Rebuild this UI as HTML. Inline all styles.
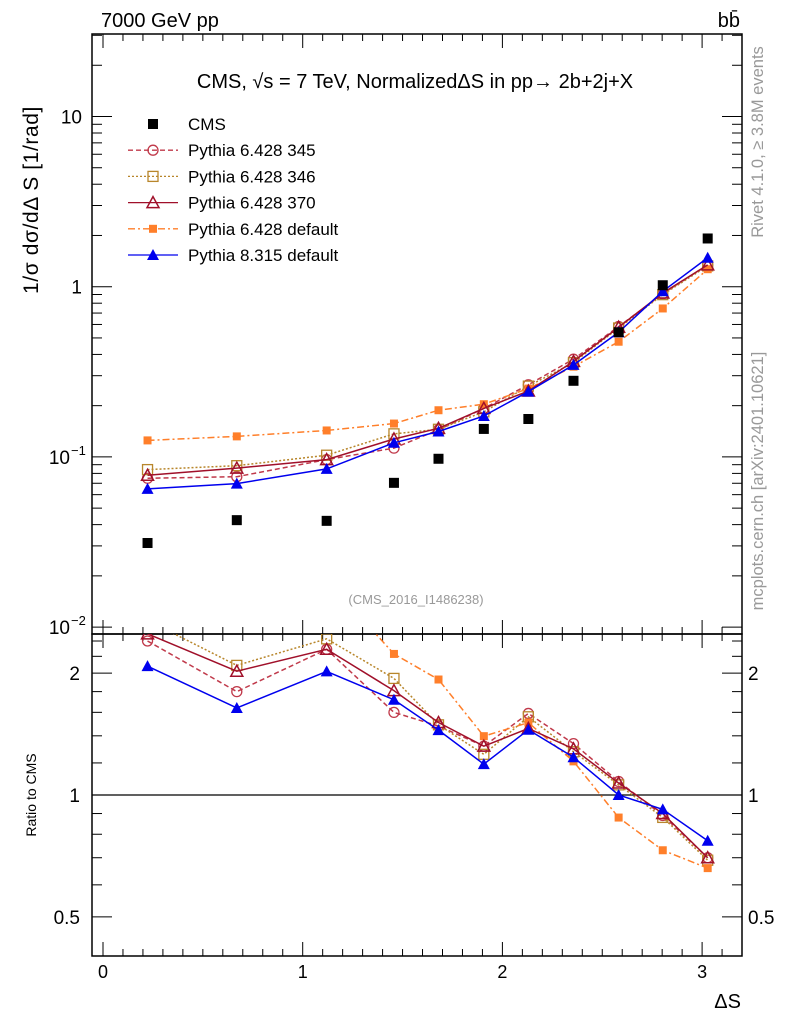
<!DOCTYPE html>
<html><head><meta charset="utf-8"><style>
body{margin:0;background:#fff;}
svg{display:block;font-family:"Liberation Sans",sans-serif;}
</style></head><body>
<svg id="chart" width="786" height="1024" viewBox="0 0 786 1024" xmlns="http://www.w3.org/2000/svg">
<text x="101" y="27" font-size="20">7000 GeV pp</text>
<text x="740" y="27" font-size="20" text-anchor="end">bb̄</text>
<text x="415" y="88" font-size="20" text-anchor="middle">CMS, √s = 7 TeV, NormalizedΔS in pp→  2b+2j+X</text>
<text transform="translate(38,200) rotate(-90)" font-size="21" letter-spacing="0.6" text-anchor="middle">1/σ dσ/dΔ S [1/rad]</text>
<text transform="translate(36,795) rotate(-90)" font-size="14" text-anchor="middle">Ratio to CMS</text>
<text x="741" y="1008" font-size="20" text-anchor="end">ΔS</text>
<text transform="translate(763,142) rotate(-90)" font-size="16.5" fill="#999" text-anchor="middle">Rivet 4.1.0, ≥ 3.8M events</text>
<text transform="translate(763,481) rotate(-90)" font-size="16.5" fill="#999" text-anchor="middle">mcplots.cern.ch [arXiv:2401.10621]</text>
<text x="416" y="604" font-size="13" fill="#999" text-anchor="middle">(CMS_2016_I1486238)</text>
<g id="axes"></g><g id="series"></g><g id="legend"></g>
</svg>
<script>
const xCenters=[0.223,0.67,1.12,1.457,1.68,1.907,2.13,2.356,2.582,2.803,3.028];
const cmsVals=[0.0312,0.0425,0.0421,0.0704,0.0975,0.146,0.167,0.280,0.54,1.02,1.92];
const p345=[0.0749,0.0765,0.0964,0.1126,0.1443,0.1927,0.2655,0.375,0.583,0.908,1.344];
const p346=[0.0842,0.0888,0.1023,0.1366,0.1453,0.184,0.2605,0.358,0.572,0.898,1.325];
const p370=[0.078,0.0859,0.0964,0.1274,0.1472,0.1927,0.2438,0.364,0.578,0.918,1.344];
const p6def=[0.125,0.132,0.143,0.157,0.188,0.204,0.252,0.339,0.475,0.745,1.267];
const p8def=[0.0649,0.0697,0.085,0.121,0.141,0.174,0.242,0.347,0.54,0.94,1.48];
const xTicks=[0,1,2,3];
const ratioTicks=[0.5,1,2];
const legendLabels=["CMS","Pythia 6.428 345","Pythia 6.428 346","Pythia 6.428 370","Pythia 6.428 default","Pythia 8.315 default"];

const NS="http://www.w3.org/2000/svg";
const L=92,R=742,T=34,MB=634,RB=956;
const X=v=>103+v*199.7;
const Y=v=>116.5-(Math.log10(v)-1)*170.2;
const YR=v=>795-Math.log10(v)*405;
function mk(tag,attrs,parent){const e=document.createElementNS(NS,tag);for(const k in attrs)e.setAttribute(k,attrs[k]);parent.appendChild(e);return e;}
const ax=document.getElementById('axes'),sg=document.getElementById('series'),lg=document.getElementById('legend');
let f=mk('rect',{x:L,y:T,width:R-L,height:MB-T,fill:'none',stroke:'#000','stroke-width':1.5},ax);


f=mk('rect',{x:L,y:MB,width:R-L,height:RB-MB,fill:'none',stroke:'#000','stroke-width':1.5},ax);


for(let i=0;i<=32;i++){const v=i/10,x=X(v);if(x>R)break;const len=i%10==0?14:7;
 mk('line',{x1:x,x2:x,y1:RB,y2:RB-len,stroke:'#000'},ax);
 mk('line',{x1:x,x2:x,y1:MB,y2:MB-len,stroke:'#000'},ax);
 mk('line',{x1:x,x2:x,y1:T,y2:T+len,stroke:'#000'},ax);
 mk('line',{x1:x,x2:x,y1:MB,y2:MB+len,stroke:'#000'},ax);}
xTicks.forEach(v=>{const t=mk('text',{x:X(v),y:978,'font-size':18,'text-anchor':'middle'},ax);t.textContent=v;

});
for(let d=-2;d<=1;d++)for(let m=1;m<=9;m++){const v=m*Math.pow(10,d),y=Y(v);if(y<T||y>MB)continue;const len=m==1?20:10;
 mk('line',{x1:L,x2:L+len,y1:y,y2:y,stroke:'#000'},ax);mk('line',{x1:R,x2:R-len,y1:y,y2:y,stroke:'#000'},ax);}
[[10,'10'],[1,'1']].forEach(([v,s])=>{const t=mk('text',{x:82,y:Y(v)+7,'font-size':19,'text-anchor':'end'},ax);t.textContent=s;

});
[[0.1,'−1'],[0.01,'−2']].forEach(([v,e])=>{const t=mk('text',{x:70,y:Y(v)+7,'font-size':19,'text-anchor':'end'},ax);t.textContent='10';


const s=mk('text',{x:71,y:Y(v)-2,'font-size':13},ax);s.textContent=e;});
for(const v of [0.4,0.5,0.6,0.7,0.8,0.9,1,1.2,1.4,1.6,1.8,2,2.2,2.4]){const y=YR(v);if(y<MB||y>RB)continue;const len=ratioTicks.includes(v)?20:10;
 mk('line',{x1:L,x2:L+len,y1:y,y2:y,stroke:'#000'},ax);mk('line',{x1:R,x2:R-len,y1:y,y2:y,stroke:'#000'},ax);}
ratioTicks.forEach(v=>{let t=mk('text',{x:80,y:YR(v)+7,'font-size':19,'text-anchor':'end'},ax);t.textContent=v;


t=mk('text',{x:748,y:YR(v)+7,'font-size':19},ax);t.textContent=v;

});
mk('line',{x1:L,x2:R,y1:YR(1),y2:YR(1),stroke:'#000','stroke-width':1.2},ax);

function marker(g,type,col,x,y,s){
 if(type=='sqf')return mk('rect',{x:x-s,y:y-s,width:2*s,height:2*s,fill:col},g);
 if(type=='sqo')return mk('rect',{x:x-s,y:y-s,width:2*s,height:2*s,fill:'none',stroke:col,'stroke-width':1.3},g);
 if(type=='circ')return mk('circle',{cx:x,cy:y,r:s,fill:'none',stroke:col,'stroke-width':1.3},g);
 if(type=='trio')return mk('path',{d:`M${x},${y-s-1}L${x+s+1},${y+s}L${x-s-1},${y+s}Z`,fill:'none',stroke:col,'stroke-width':1.5},g);
 if(type=='trif')return mk('path',{d:`M${x},${y-s-1}L${x+s+1},${y+s}L${x-s-1},${y+s}Z`,fill:col},g);}
const defs=[
 {vals:p345,col:'#c0394a',dash:'5,3',m:'circ',s:5,name:'pythia6-345'},
 {vals:p346,col:'#b8862b',dash:'2,2',m:'sqo',s:5,name:'pythia6-346'},
 {vals:p6def,col:'#ff7f2a',dash:'7,3,2,3',m:'sqf',s:4,name:'pythia6-default'},
 {vals:p370,col:'#a0102a',dash:'',m:'trio',s:5,name:'pythia6-370'},
 {vals:p8def,col:'#0000ee',dash:'',m:'trif',s:5,name:'pythia8-default'}];
function clipPath(id,y1,y2){const cp=mk('clipPath',{id:id},sg);mk('rect',{x:L,y:y1,width:R-L,height:y2-y1},cp);}
clipPath('cm',T,MB);clipPath('cr',MB,RB);
defs.forEach(d=>{
 const gm=mk('g',{'clip-path':'url(#cm)'},sg);
 
 
 const pts=d.vals.map((v,i)=>X(xCenters[i])+','+Y(v)).join(' ');
 mk('polyline',{points:pts,fill:'none',stroke:d.col,'stroke-width':1.5,'stroke-dasharray':d.dash},gm);
 d.vals.forEach((v,i)=>{const e=marker(gm,d.m,d.col,X(xCenters[i]),Y(v),d.s);
  
  });
 const gr=mk('g',{'clip-path':'url(#cr)'},sg);
 
 
 const rp=d.vals.map((v,i)=>X(xCenters[i])+','+YR(v/cmsVals[i])).join(' ');
 mk('polyline',{points:rp,fill:'none',stroke:d.col,'stroke-width':1.5,'stroke-dasharray':d.dash},gr);
 d.vals.forEach((v,i)=>{const e=marker(gr,d.m,d.col,X(xCenters[i]),YR(v/cmsVals[i]),d.s);
  
  });
});
cmsVals.forEach((v,i)=>{const e=marker(sg,'sqf','#000',X(xCenters[i]),Y(v),5);
 
 });
const legDefs=[{m:'sqf',col:'#000',dash:null,s:5},{m:'circ',col:'#c0394a',dash:'5,3',s:5},{m:'sqo',col:'#b8862b',dash:'2,2',s:5},{m:'trio',col:'#a0102a',dash:'',s:5},{m:'sqf',col:'#ff7f2a',dash:'7,3,2,3',s:4},{m:'trif',col:'#0000ee',dash:'',s:5}];
legendLabels.forEach((lab,i)=>{const y=124+i*26.2,d=legDefs[i];
 const g=mk('g',{},lg);
 
 
 if(d.dash!==null)mk('line',{x1:128,x2:178,y1:y,y2:y,stroke:d.col,'stroke-width':1.3,'stroke-dasharray':d.dash},g);
 marker(g,d.m,d.col,153,y,d.s);
 const t=mk('text',{x:188,y:y+6,'font-size':17},g);t.textContent=lab;});
</script>
</body></html>
